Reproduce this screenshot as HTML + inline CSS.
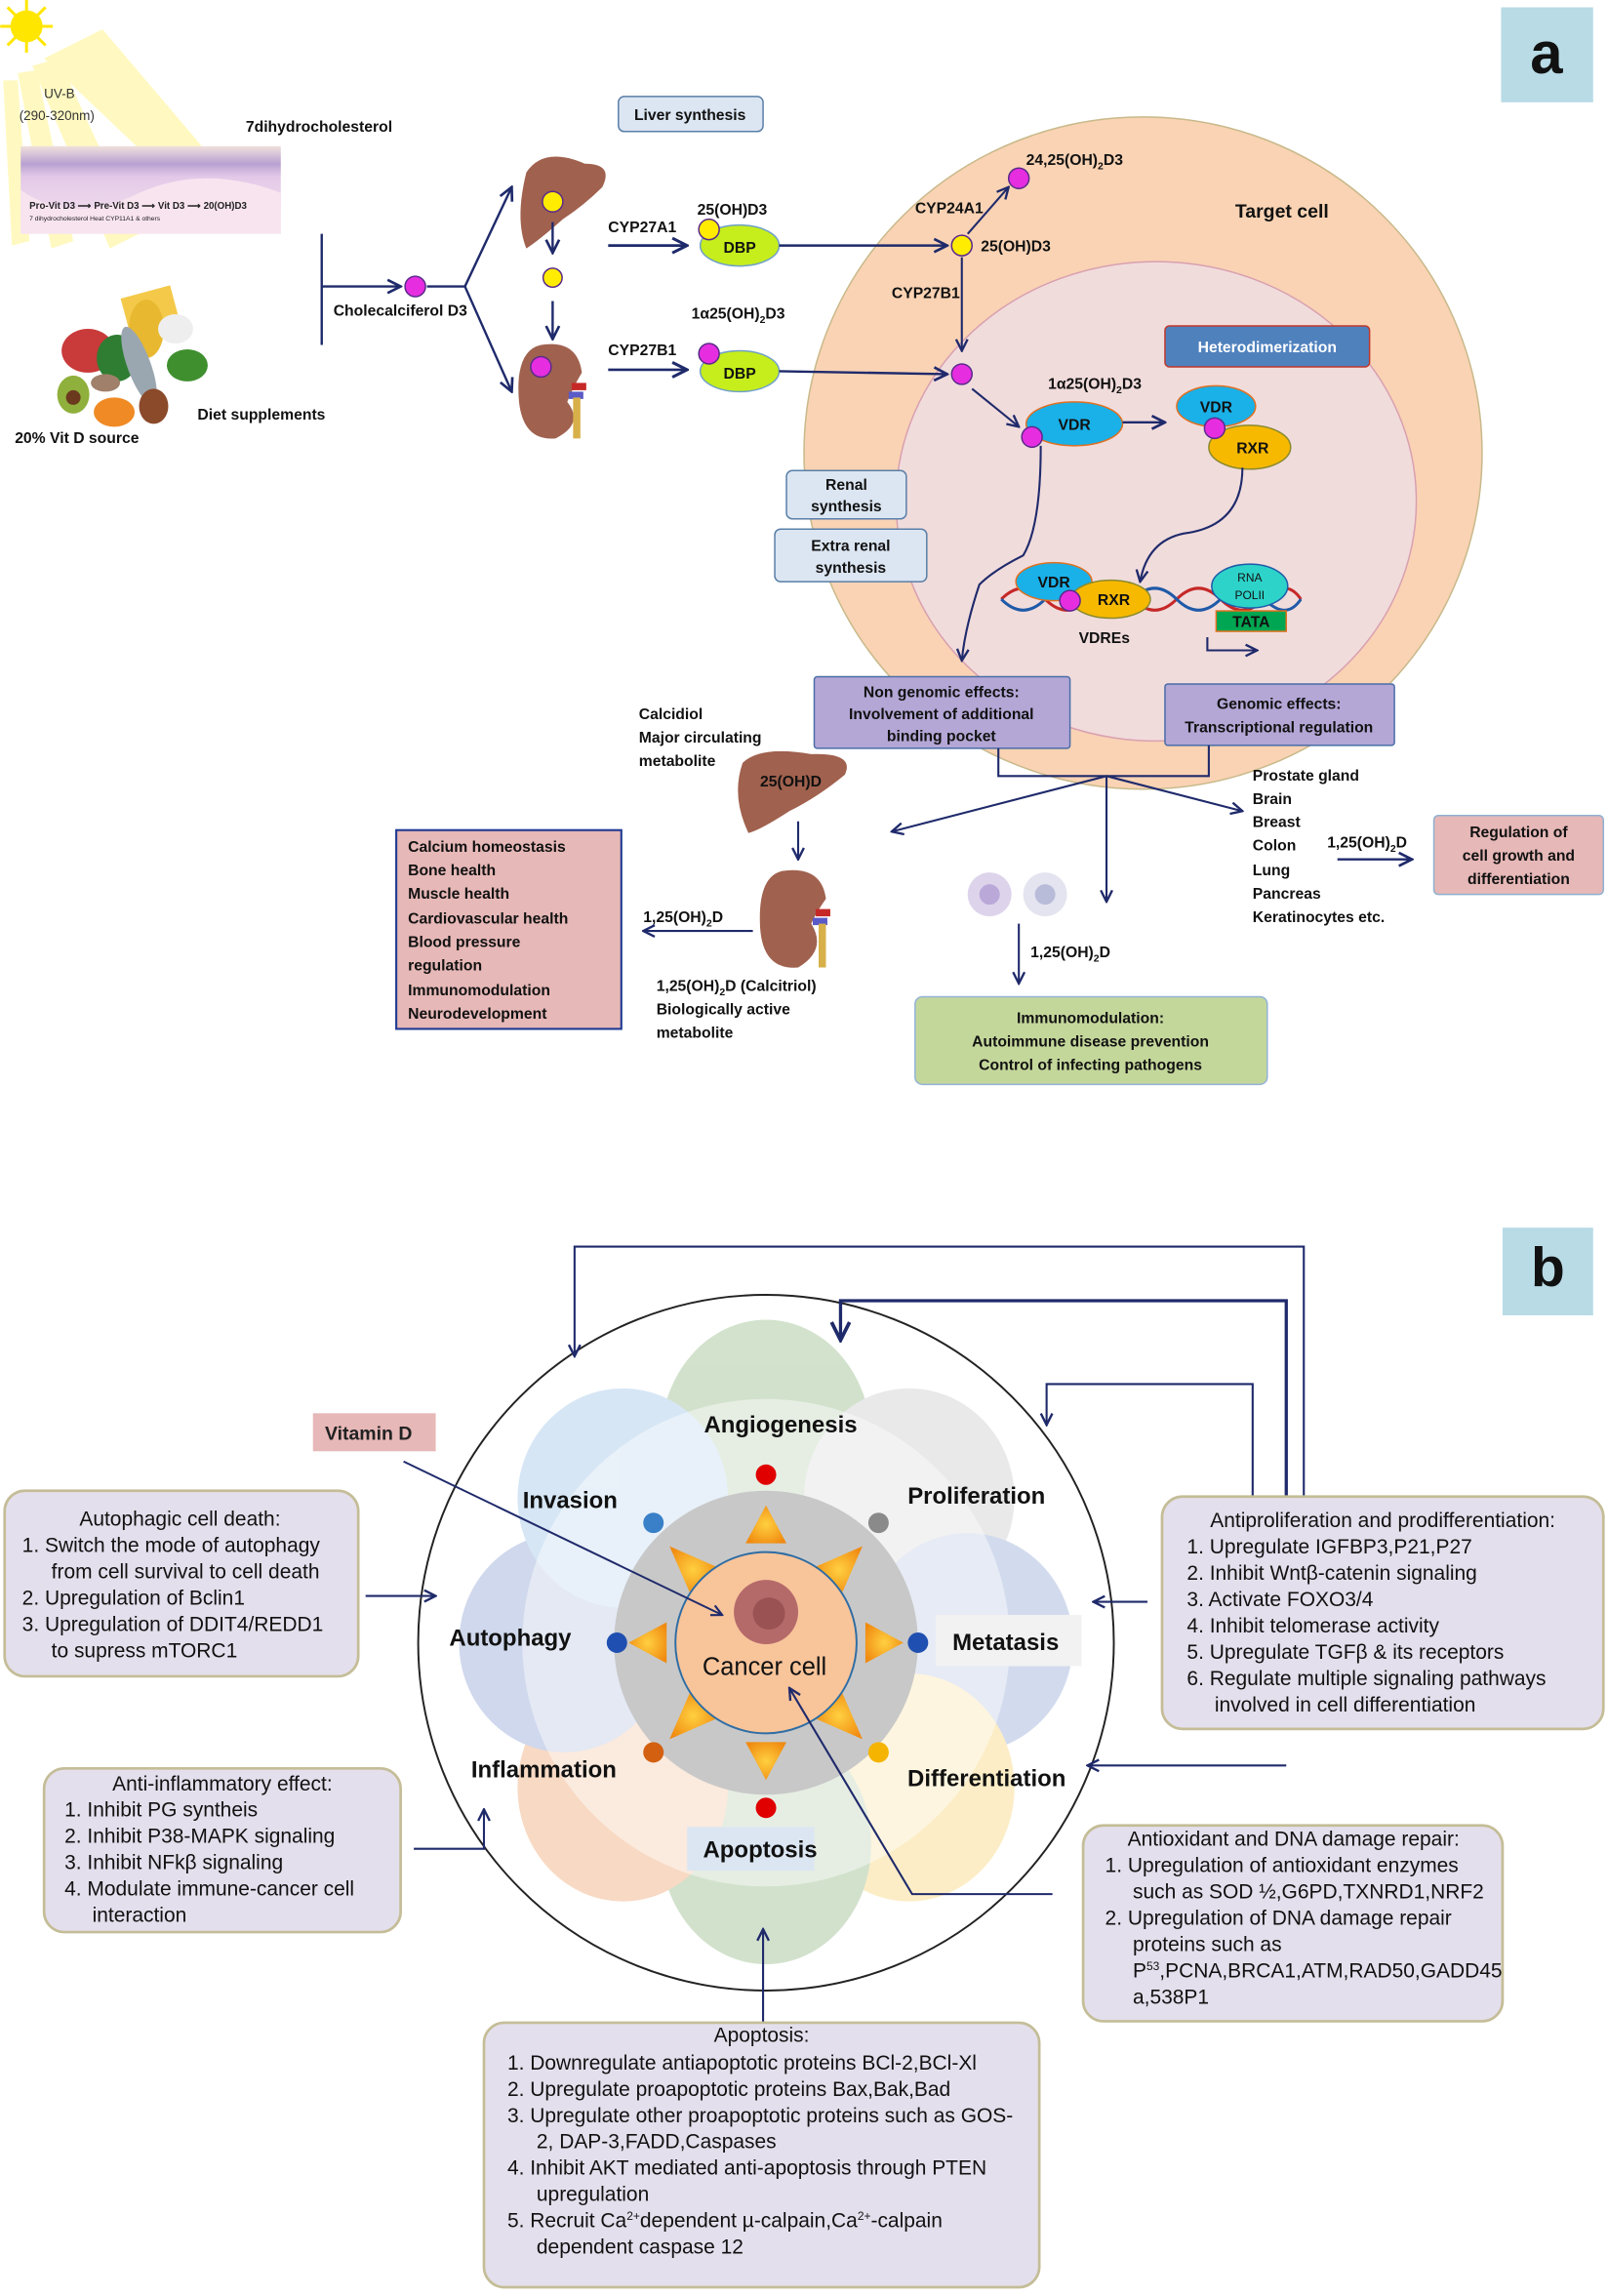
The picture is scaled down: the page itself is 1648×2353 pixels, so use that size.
<!DOCTYPE html>
<html><head><meta charset="utf-8">
<style>
html,body{margin:0;padding:0;background:#fff;}
svg{display:block;}
text{font-family:"Liberation Sans",sans-serif;}
.b{font-weight:bold;font-size:10.5px;fill:#111;}
.t{font-size:14px;fill:#111;}
.h{font-weight:bold;font-size:16px;fill:#111;}
</style></head><body>
<svg width="1648" height="2353" viewBox="0 0 1100 1571" xmlns="http://www.w3.org/2000/svg">
<defs>
<marker id="ar" viewBox="0 0 10 10" refX="9" refY="5" markerWidth="7" markerHeight="7" orient="auto-start-reverse"><path d="M1,1 L9,5 L1,9" fill="none" stroke="#1f2a6b" stroke-width="1.6"/></marker>
<linearGradient id="skin" x1="0" y1="0" x2="0" y2="1"><stop offset="0" stop-color="#efe0dc"/><stop offset="0.2" stop-color="#b9a2d2"/><stop offset="0.35" stop-color="#e3c9e8"/><stop offset="1" stop-color="#f7e6f0"/></linearGradient>
<radialGradient id="tri" cx="0.5" cy="0.5" r="0.6"><stop offset="0" stop-color="#ffd040"/><stop offset="1" stop-color="#f08a10"/></radialGradient>
</defs>

<!-- ============ PART A ============ -->
<rect x="1027" y="5" width="63" height="65" fill="#b8dbe6"/>
<text x="1058" y="50" font-size="40" font-weight="bold" text-anchor="middle" fill="#111">a</text>

<g fill="#fff7a8" opacity="0.7">
<polygon points="30,40 70,20 155,120 130,135"/>
<polygon points="22,45 40,40 95,160 75,170"/>
<polygon points="12,50 25,48 50,165 35,170"/>
<polygon points="2,55 12,55 20,165 8,168"/>
</g>
<circle cx="18" cy="18" r="11" fill="#ffe600"/>
<g stroke="#ffe600" stroke-width="2"><line x1="18" y1="0" x2="18" y2="36"/><line x1="0" y1="18" x2="36" y2="18"/><line x1="5" y1="5" x2="31" y2="31"/><line x1="31" y1="5" x2="5" y2="31"/></g>
<text x="30" y="67" font-size="9" fill="#333">UV-B</text>
<text x="13" y="82" font-size="9" fill="#333">(290-320nm)</text>
<text x="168" y="90" class="b">7dihydrocholesterol</text>
<rect x="14" y="100" width="178" height="60" fill="url(#skin)"/>
<path d="M14,130 Q50,155 95,132 Q140,112 192,132 L192,160 L14,160Z" fill="#f8e4ef"/>
<text x="20" y="143" font-size="6.5" font-weight="bold" fill="#222">Pro-Vit D3 ⟶ Pre-Vit D3 ⟶ Vit D3 ⟶ 20(OH)D3</text>
<text x="20" y="151" font-size="4.5" fill="#222">7 dihydrocholesterol                      Heat            CYP11A1 &amp; others</text>

<g>
<rect x="85" y="200" width="35" height="25" fill="#f4c94a" transform="rotate(-15 100 212)"/>
<ellipse cx="60" cy="240" rx="18" ry="15" fill="#c93a3a"/>
<ellipse cx="80" cy="245" rx="14" ry="16" fill="#2e7d32"/>
<ellipse cx="100" cy="225" rx="12" ry="20" fill="#e8b830"/>
<ellipse cx="95" cy="250" rx="8" ry="28" fill="#9aa7b0" transform="rotate(-20 95 250)"/>
<ellipse cx="120" cy="225" rx="12" ry="10" fill="#eeeeee"/>
<ellipse cx="128" cy="250" rx="14" ry="11" fill="#3f8f2f"/>
<ellipse cx="50" cy="270" rx="11" ry="13" fill="#8fb03c"/>
<circle cx="50" cy="272" r="5" fill="#6b3a1e"/>
<ellipse cx="78" cy="282" rx="14" ry="10" fill="#f08a24"/>
<ellipse cx="105" cy="278" rx="10" ry="12" fill="#8b4a2a"/>
<ellipse cx="72" cy="262" rx="10" ry="6" fill="#a0806a"/>
</g>
<text x="135" y="287" class="b">Diet supplements</text>
<text x="10" y="303" class="b">20% Vit D source</text>

<line x1="220" y1="160" x2="220" y2="236" stroke="#1f2a6b" stroke-width="1.6"/>
<line x1="220" y1="196" x2="274" y2="196" stroke="#1f2a6b" stroke-width="1.6" marker-end="url(#ar)"/>
<circle cx="284" cy="196" r="7" fill="#e62ee0" stroke="#5a2a8a"/>
<text x="228" y="216" class="b">Cholecalciferol D3</text>
<polyline points="292,196 318,196" fill="none" stroke="#1f2a6b" stroke-width="1.6"/>
<line x1="318" y1="196" x2="350" y2="128" stroke="#1f2a6b" stroke-width="1.6" marker-end="url(#ar)"/>
<line x1="318" y1="196" x2="350" y2="268" stroke="#1f2a6b" stroke-width="1.6" marker-end="url(#ar)"/>

<path d="M360,118 Q372,100 400,112 Q420,112 412,128 Q400,140 385,150 Q368,165 360,170 Q352,150 360,118Z" fill="#a0614e"/>
<circle cx="378" cy="138" r="7" fill="#ffec00" stroke="#5a2a8a"/>
<line x1="378" y1="152" x2="378" y2="173" stroke="#1f2a6b" stroke-width="1.6" marker-end="url(#ar)"/>
<circle cx="378" cy="190" r="6.5" fill="#ffec00" stroke="#5a2a8a"/>
<line x1="378" y1="206" x2="378" y2="232" stroke="#1f2a6b" stroke-width="1.6" marker-end="url(#ar)"/>
<path d="M370,236 Q395,232 398,255 Q392,265 388,275 Q400,290 380,300 Q358,302 355,275 Q352,240 370,236Z" fill="#a0624f"/>
<rect x="391" y="262" width="10" height="5" fill="#c62828"/><rect x="389" y="268" width="10" height="5" fill="#5a5ac8"/>
<rect x="392" y="272" width="5" height="28" fill="#d8b04a"/>
<circle cx="370" cy="251" r="7" fill="#e62ee0" stroke="#5a2a8a"/>

<rect x="423" y="66" width="99" height="24" rx="4" fill="#dce6f2" stroke="#5a7fa8"/>
<text x="472" y="82" class="b" text-anchor="middle">Liver synthesis</text>

<text x="416" y="159" class="b">CYP27A1</text>
<line x1="416" y1="168" x2="470" y2="168" stroke="#1f2a6b" stroke-width="1.8" marker-end="url(#ar)"/>
<ellipse cx="506" cy="168" rx="27" ry="14" fill="#c6ee1c" stroke="#6fa0c8"/>
<text x="506" y="173" class="b" text-anchor="middle">DBP</text>
<circle cx="485" cy="157" r="7" fill="#ffec00" stroke="#5a2a8a"/>
<text x="477" y="147" class="b">25(OH)D3</text>

<text x="416" y="243" class="b">CYP27B1</text>
<line x1="416" y1="253" x2="470" y2="253" stroke="#1f2a6b" stroke-width="1.8" marker-end="url(#ar)"/>
<ellipse cx="506" cy="254" rx="27" ry="14" fill="#c6ee1c" stroke="#6fa0c8"/>
<text x="506" y="259" class="b" text-anchor="middle">DBP</text>
<circle cx="485" cy="242" r="7" fill="#e62ee0" stroke="#5a2a8a"/>
<text x="473" y="218" class="b">1α25(OH)<tspan font-size="7" dy="3">2</tspan><tspan dy="-3">D3</tspan></text>

<ellipse cx="782" cy="310" rx="232" ry="230" fill="#f9d3b4" stroke="#c8b98a"/>
<ellipse cx="791" cy="343" rx="178" ry="164" fill="#f1dcdc" stroke="#d9a0b0"/>
<text x="845" y="149" font-size="13" font-weight="bold" fill="#111">Target cell</text>

<line x1="533" y1="168" x2="648" y2="168" stroke="#1f2a6b" stroke-width="1.6" marker-end="url(#ar)"/>
<line x1="533" y1="254" x2="648" y2="256" stroke="#1f2a6b" stroke-width="1.6" marker-end="url(#ar)"/>
<circle cx="658" cy="168" r="7" fill="#ffec00" stroke="#5a2a8a"/>
<text x="671" y="172" class="b">25(OH)D3</text>
<line x1="662" y1="160" x2="690" y2="128" stroke="#1f2a6b" stroke-width="1.4" marker-end="url(#ar)"/>
<circle cx="697" cy="122" r="7" fill="#e62ee0" stroke="#5a2a8a"/>
<text x="702" y="113" class="b">24,25(OH)<tspan font-size="7" dy="3">2</tspan><tspan dy="-3">D3</tspan></text>
<text x="626" y="146" class="b">CYP24A1</text>
<text x="610" y="204" class="b">CYP27B1</text>
<line x1="658" y1="176" x2="658" y2="240" stroke="#1f2a6b" stroke-width="1.4" marker-end="url(#ar)"/>
<circle cx="658" cy="256" r="7" fill="#e62ee0" stroke="#5a2a8a"/>

<rect x="797" y="223" width="140" height="28" rx="3" fill="#4f81bd" stroke="#c0392b"/>
<text x="867" y="241" class="b" text-anchor="middle" style="fill:#fff">Heterodimerization</text>
<text x="717" y="266" class="b">1α25(OH)<tspan font-size="7" dy="3">2</tspan><tspan dy="-3">D3</tspan></text>
<line x1="665" y1="266" x2="697" y2="292" stroke="#1f2a6b" stroke-width="1.4" marker-end="url(#ar)"/>
<ellipse cx="735" cy="290" rx="33" ry="15" fill="#1ab0e8" stroke="#e07020"/>
<text x="735" y="294" class="b" text-anchor="middle">VDR</text>
<circle cx="706" cy="299" r="7" fill="#e62ee0" stroke="#5a2a8a"/>
<line x1="768" y1="289" x2="797" y2="289" stroke="#1f2a6b" stroke-width="1.6" marker-end="url(#ar)"/>
<ellipse cx="832" cy="278" rx="27" ry="14" fill="#1ab0e8" stroke="#e07020"/>
<text x="832" y="282" class="b" text-anchor="middle">VDR</text>
<ellipse cx="855" cy="306" rx="28" ry="15" fill="#f7b900" stroke="#8a8a30"/>
<text x="857" y="310" class="b" text-anchor="middle">RXR</text>
<circle cx="831" cy="293" r="7" fill="#e62ee0" stroke="#5a2a8a"/>
<path d="M850,320 Q850,360 810,365 Q785,370 780,398" fill="none" stroke="#1f2a6b" stroke-width="1.4" marker-end="url(#ar)"/>
<path d="M712,305 Q712,360 700,380 Q680,390 670,400 Q660,430 658,452" fill="none" stroke="#1f2a6b" stroke-width="1.4" marker-end="url(#ar)"/>

<path d="M685,410 Q700,395 715,410 T745,410 T775,410 T805,410 T835,410 T865,410 T890,410" fill="none" stroke="#c62828" stroke-width="2"/>
<path d="M685,410 Q700,425 715,410 T745,410 T775,410 T805,410 T835,410 T865,410 T890,410" fill="none" stroke="#1f5aa8" stroke-width="2"/>
<ellipse cx="721" cy="398" rx="26" ry="13" fill="#1ab0e8" stroke="#e07020"/>
<text x="721" y="402" class="b" text-anchor="middle">VDR</text>
<ellipse cx="760" cy="410" rx="27" ry="13" fill="#f7b900" stroke="#8a8a30"/>
<text x="762" y="414" class="b" text-anchor="middle">RXR</text>
<circle cx="732" cy="411" r="7" fill="#e62ee0" stroke="#5a2a8a"/>
<ellipse cx="855" cy="401" rx="26" ry="15" fill="#2dd3c9" stroke="#1f5aa8"/>
<text x="855" y="398" font-size="8" text-anchor="middle" fill="#111">RNA</text>
<text x="855" y="410" font-size="8" text-anchor="middle" fill="#111">POLII</text>
<rect x="832" y="418" width="48" height="14" fill="#00a651" stroke="#e07020"/>
<text x="856" y="429" class="b" text-anchor="middle">TATA</text>
<text x="738" y="440" class="b">VDREs</text>
<polyline points="826,436 826,445 860,445" fill="none" stroke="#1f2a6b" stroke-width="1.4" marker-end="url(#ar)"/>

<rect x="538" y="322" width="82" height="33" rx="4" fill="#dce6f2" stroke="#5a7fa8"/>
<text x="579" y="335" class="b" text-anchor="middle">Renal</text><text x="579" y="350" class="b" text-anchor="middle">synthesis</text>
<rect x="530" y="362" width="104" height="36" rx="4" fill="#dce6f2" stroke="#5a7fa8"/>
<text x="582" y="377" class="b" text-anchor="middle">Extra renal</text><text x="582" y="392" class="b" text-anchor="middle">synthesis</text>

<rect x="557" y="463" width="175" height="49" rx="2" fill="#b4a7d6" stroke="#4a6da8"/>
<text x="644" y="477" class="b" text-anchor="middle">Non genomic effects:</text>
<text x="644" y="492" class="b" text-anchor="middle">Involvement of additional</text>
<text x="644" y="507" class="b" text-anchor="middle">binding pocket</text>
<rect x="797" y="468" width="157" height="42" rx="2" fill="#b4a7d6" stroke="#4a6da8"/>
<text x="875" y="485" class="b" text-anchor="middle">Genomic effects:</text>
<text x="875" y="501" class="b" text-anchor="middle">Transcriptional regulation</text>

<polyline points="683,512 683,531 827,531 827,510" fill="none" stroke="#1f2a6b" stroke-width="1.4"/>
<line x1="757" y1="531" x2="610" y2="569" stroke="#1f2a6b" stroke-width="1.4" marker-end="url(#ar)"/>
<line x1="757" y1="531" x2="757" y2="617" stroke="#1f2a6b" stroke-width="1.4" marker-end="url(#ar)"/>
<line x1="757" y1="531" x2="850" y2="555" stroke="#1f2a6b" stroke-width="1.4" marker-end="url(#ar)"/>

<text x="437" y="492" class="b">Calcidiol</text>
<text x="437" y="508" class="b">Major circulating</text>
<text x="437" y="524" class="b">metabolite</text>
<path d="M508,522 Q520,510 555,516 Q585,515 578,530 Q560,545 540,555 Q520,568 512,570 Q500,545 508,522Z" fill="#a0614e"/>
<text x="520" y="538" class="b">25(OH)D</text>
<line x1="546" y1="562" x2="546" y2="588" stroke="#1f2a6b" stroke-width="1.4" marker-end="url(#ar)"/>
<path d="M535,596 Q562,592 565,615 Q558,625 555,632 Q566,650 546,662 Q522,664 520,635 Q518,600 535,596Z" fill="#a0624f"/>
<rect x="558" y="622" width="10" height="5" fill="#c62828"/><rect x="556" y="628" width="10" height="5" fill="#5a5ac8"/>
<rect x="560" y="632" width="5" height="30" fill="#d8b04a"/>
<text x="440" y="631" class="b">1,25(OH)<tspan font-size="7" dy="3">2</tspan><tspan dy="-3">D</tspan></text>
<line x1="515" y1="637" x2="440" y2="637" stroke="#1f2a6b" stroke-width="1.4" marker-end="url(#ar)"/>
<text x="449" y="678" class="b">1,25(OH)<tspan font-size="7" dy="3">2</tspan><tspan dy="-3">D (Calcitriol)</tspan></text>
<text x="449" y="694" class="b">Biologically active</text>
<text x="449" y="710" class="b">metabolite</text>

<rect x="271" y="568" width="154" height="136" fill="#e6b8b7" stroke="#1f3a93" stroke-width="1.4"/>
<text x="279" y="583" class="b">Calcium homeostasis</text>
<text x="279" y="599" class="b">Bone health</text>
<text x="279" y="615" class="b">Muscle health</text>
<text x="279" y="632" class="b">Cardiovascular health</text>
<text x="279" y="648" class="b">Blood pressure</text>
<text x="279" y="664" class="b">regulation</text>
<text x="279" y="681" class="b">Immunomodulation</text>
<text x="279" y="697" class="b">Neurodevelopment</text>

<circle cx="677" cy="612" r="15" fill="#ddd4ec"/><circle cx="677" cy="612" r="7" fill="#b9a8d8"/>
<circle cx="715" cy="612" r="15" fill="#e4e4f0"/><circle cx="715" cy="612" r="7" fill="#b8bcd8"/>
<line x1="697" y1="632" x2="697" y2="673" stroke="#1f2a6b" stroke-width="1.4" marker-end="url(#ar)"/>
<text x="705" y="655" class="b">1,25(OH)<tspan font-size="7" dy="3">2</tspan><tspan dy="-3">D</tspan></text>
<rect x="626" y="682" width="241" height="60" rx="5" fill="#c4d79b" stroke="#93b3d7"/>
<text x="746" y="700" class="b" text-anchor="middle">Immunomodulation:</text>
<text x="746" y="716" class="b" text-anchor="middle">Autoimmune disease prevention</text>
<text x="746" y="732" class="b" text-anchor="middle">Control of infecting pathogens</text>

<text x="857" y="534" class="b">Prostate gland</text>
<text x="857" y="550" class="b">Brain</text>
<text x="857" y="566" class="b">Breast</text>
<text x="857" y="582" class="b">Colon</text>
<text x="857" y="599" class="b">Lung</text>
<text x="857" y="615" class="b">Pancreas</text>
<text x="857" y="631" class="b">Keratinocytes etc.</text>
<text x="908" y="580" class="b">1,25(OH)<tspan font-size="7" dy="3">2</tspan><tspan dy="-3">D</tspan></text>
<line x1="915" y1="588" x2="966" y2="588" stroke="#1f2a6b" stroke-width="1.6" marker-end="url(#ar)"/>
<rect x="981" y="558" width="116" height="54" rx="3" fill="#e6b8b7" stroke="#8fb0d0"/>
<text x="1039" y="573" class="b" text-anchor="middle">Regulation of</text>
<text x="1039" y="589" class="b" text-anchor="middle">cell growth and</text>
<text x="1039" y="605" class="b" text-anchor="middle">differentiation</text>

<!-- ============ PART B ============ -->
<rect x="1028" y="840" width="62" height="60" fill="#b8dbe6"/>
<text x="1059" y="880" font-size="38" font-weight="bold" text-anchor="middle" fill="#111">b</text>

<circle cx="524" cy="1124" r="238" fill="#fff" stroke="#222" stroke-width="1.3"/>
<g opacity="0.75">
<ellipse cx="524" cy="985" rx="72" ry="82" fill="#c3d8bb"/>
<ellipse cx="622" cy="1025" rx="72" ry="75" fill="#e2e2e2"/>
<ellipse cx="662" cy="1124" rx="72" ry="75" fill="#c4cfe8"/>
<ellipse cx="622" cy="1223" rx="72" ry="78" fill="#fbe8b4"/>
<ellipse cx="524" cy="1262" rx="72" ry="82" fill="#c3d8bb"/>
<ellipse cx="426" cy="1223" rx="72" ry="78" fill="#f6cdb0"/>
<ellipse cx="386" cy="1124" rx="72" ry="75" fill="#bfcbe6"/>
<ellipse cx="426" cy="1025" rx="72" ry="75" fill="#c9def2"/>
</g>
<circle cx="524" cy="1124" r="166" fill="#ffffff" opacity="0.45" stroke="#fff" stroke-width="1.5"/>
<circle cx="524" cy="1124" r="104" fill="#c8c8c8"/>
<g fill="url(#tri)">
<polygon points="524,1030 510,1056 538,1056"/>
<polygon points="524,1218 510,1192 538,1192"/>
<polygon points="430,1124 456,1110 456,1138"/>
<polygon points="618,1124 592,1110 592,1138"/>
<polygon points="458,1058 490,1072 472,1090"/>
<polygon points="590,1058 558,1072 576,1090"/>
<polygon points="458,1190 490,1176 472,1158"/>
<polygon points="590,1190 558,1176 576,1158"/>
</g>
<circle cx="524" cy="1124" r="62" fill="#f8c49a" stroke="#2e6da4" stroke-width="1.3"/>
<circle cx="524" cy="1103" r="22" fill="#b56a6a"/><circle cx="526" cy="1104" r="11" fill="#9a5252"/>
<text x="523" y="1146" font-size="17" text-anchor="middle" fill="#111">Cancer cell</text>
<circle cx="524" cy="1009" r="7" fill="#e00000"/>
<circle cx="601" cy="1042" r="7" fill="#8a8a8a"/>
<circle cx="628" cy="1124" r="7" fill="#1f4fb0"/>
<circle cx="601" cy="1199" r="7" fill="#f5b400"/>
<circle cx="524" cy="1237" r="7" fill="#e00000"/>
<circle cx="447" cy="1199" r="7" fill="#d26010"/>
<circle cx="422" cy="1124" r="7" fill="#1f4fb0"/>
<circle cx="447" cy="1042" r="7" fill="#3a80c8"/>

<text x="534" y="980" class="h" text-anchor="middle">Angiogenesis</text>
<text x="390" y="1032" class="h" text-anchor="middle">Invasion</text>
<text x="668" y="1029" class="h" text-anchor="middle">Proliferation</text>
<text x="349" y="1126" class="h" text-anchor="middle">Autophagy</text>
<rect x="640" y="1105" width="100" height="35" fill="#f2f2f2"/>
<text x="688" y="1129" class="h" text-anchor="middle">Metatasis</text>
<text x="372" y="1216" class="h" text-anchor="middle">Inflammation</text>
<text x="675" y="1222" class="h" text-anchor="middle">Differentiation</text>
<rect x="470" y="1250" width="87" height="30" fill="#dbe6f2"/>
<text x="520" y="1271" class="h" text-anchor="middle">Apoptosis</text>

<rect x="214" y="967" width="84" height="26" fill="#e6b8b7"/>
<text x="252" y="985" font-size="13" font-weight="bold" fill="#222" text-anchor="middle">Vitamin D</text>
<line x1="276" y1="1000" x2="494" y2="1105" stroke="#1f2a6b" stroke-width="1.3" marker-end="url(#ar)"/>

<polyline points="892,1024 892,853 393,853 393,928" fill="none" stroke="#1f2a6b" stroke-width="1.4" marker-end="url(#ar)"/>
<polyline points="880,1024 880,890 575,890 575,917" fill="none" stroke="#1f2a6b" stroke-width="2.2" marker-end="url(#ar)"/>
<polyline points="857,1024 857,947 716,947 716,975" fill="none" stroke="#1f2a6b" stroke-width="1.4" marker-end="url(#ar)"/>
<line x1="785" y1="1096" x2="748" y2="1096" stroke="#1f2a6b" stroke-width="1.4" marker-end="url(#ar)"/>
<line x1="880" y1="1208" x2="744" y2="1208" stroke="#1f2a6b" stroke-width="1.4" marker-end="url(#ar)"/>
<polyline points="720,1296 624,1296 540,1155" fill="none" stroke="#1f2a6b" stroke-width="1.4" marker-end="url(#ar)"/>
<line x1="250" y1="1092" x2="298" y2="1092" stroke="#1f2a6b" stroke-width="1.4" marker-end="url(#ar)"/>
<polyline points="283,1265 331,1265 331,1238" fill="none" stroke="#1f2a6b" stroke-width="1.4" marker-end="url(#ar)"/>
<line x1="522" y1="1384" x2="522" y2="1320" stroke="#1f2a6b" stroke-width="1.4" marker-end="url(#ar)"/>

<rect x="3" y="1020" width="242" height="127" rx="14" fill="#e4dfec" stroke="#c4bd97" stroke-width="1.8"/>
<text x="123" y="1044" class="t" text-anchor="middle">Autophagic cell death:</text>
<text x="15" y="1062" class="t">1.  Switch the mode of autophagy</text>
<text x="35" y="1080" class="t">from cell survival to cell death</text>
<text x="15" y="1098" class="t">2.  Upregulation of Bclin1</text>
<text x="15" y="1116" class="t">3.  Upregulation of DDIT4/REDD1</text>
<text x="35" y="1134" class="t">to supress mTORC1</text>

<rect x="795" y="1024" width="302" height="159" rx="14" fill="#e4dfec" stroke="#c4bd97" stroke-width="1.8"/>
<text x="946" y="1045" class="t" text-anchor="middle">Antiproliferation and prodifferentiation:</text>
<text x="812" y="1063" class="t">1.  Upregulate IGFBP3,P21,P27</text>
<text x="812" y="1081" class="t">2.  Inhibit Wntβ-catenin signaling</text>
<text x="812" y="1099" class="t">3.  Activate FOXO3/4</text>
<text x="812" y="1117" class="t">4.  Inhibit telomerase activity</text>
<text x="812" y="1135" class="t">5.  Upregulate TGFβ &amp; its receptors</text>
<text x="812" y="1153" class="t">6.  Regulate multiple signaling pathways</text>
<text x="831" y="1171" class="t">involved in cell differentiation</text>

<rect x="30" y="1210" width="244" height="112" rx="14" fill="#e4dfec" stroke="#c4bd97" stroke-width="1.8"/>
<text x="152" y="1225" class="t" text-anchor="middle">Anti-inflammatory effect:</text>
<text x="44" y="1243" class="t">1.  Inhibit PG syntheis</text>
<text x="44" y="1261" class="t">2.  Inhibit P38-MAPK signaling</text>
<text x="44" y="1279" class="t">3.  Inhibit NFkβ signaling</text>
<text x="44" y="1297" class="t">4.  Modulate immune-cancer cell</text>
<text x="63" y="1315" class="t">interaction</text>

<rect x="741" y="1249" width="287" height="134" rx="14" fill="#e4dfec" stroke="#c4bd97" stroke-width="1.8"/>
<text x="885" y="1263" class="t" text-anchor="middle">Antioxidant and DNA damage repair:</text>
<text x="756" y="1281" class="t">1.  Upregulation of  antioxidant enzymes</text>
<text x="775" y="1299" class="t">such as SOD ½,G6PD,TXNRD1,NRF2</text>
<text x="756" y="1317" class="t">2.  Upregulation of DNA damage repair</text>
<text x="775" y="1335" class="t">proteins such as</text>
<text x="775" y="1353" class="t">P<tspan font-size="8" dy="-5">53</tspan><tspan dy="5">,PCNA,BRCA1,ATM,RAD50,GADD45</tspan></text>
<text x="775" y="1371" class="t">a,538P1</text>

<rect x="331" y="1384" width="380" height="181" rx="14" fill="#e4dfec" stroke="#c4bd97" stroke-width="1.8"/>
<text x="521" y="1397" class="t" text-anchor="middle">Apoptosis:</text>
<text x="347" y="1416" class="t">1.  Downregulate antiapoptotic proteins BCl-2,BCl-Xl</text>
<text x="347" y="1434" class="t">2.  Upregulate proapoptotic proteins Bax,Bak,Bad</text>
<text x="347" y="1452" class="t">3.  Upregulate other proapoptotic proteins such as GOS-</text>
<text x="367" y="1470" class="t">2, DAP-3,FADD,Caspases</text>
<text x="347" y="1488" class="t">4.  Inhibit AKT mediated anti-apoptosis through PTEN</text>
<text x="367" y="1506" class="t">upregulation</text>
<text x="347" y="1524" class="t">5.  Recruit Ca<tspan font-size="8" dy="-5">2+</tspan><tspan dy="5">dependent µ-calpain,Ca</tspan><tspan font-size="8" dy="-5">2+</tspan><tspan dy="5">-calpain</tspan></text>
<text x="367" y="1542" class="t">dependent caspase 12</text>
</svg>
</body></html>
